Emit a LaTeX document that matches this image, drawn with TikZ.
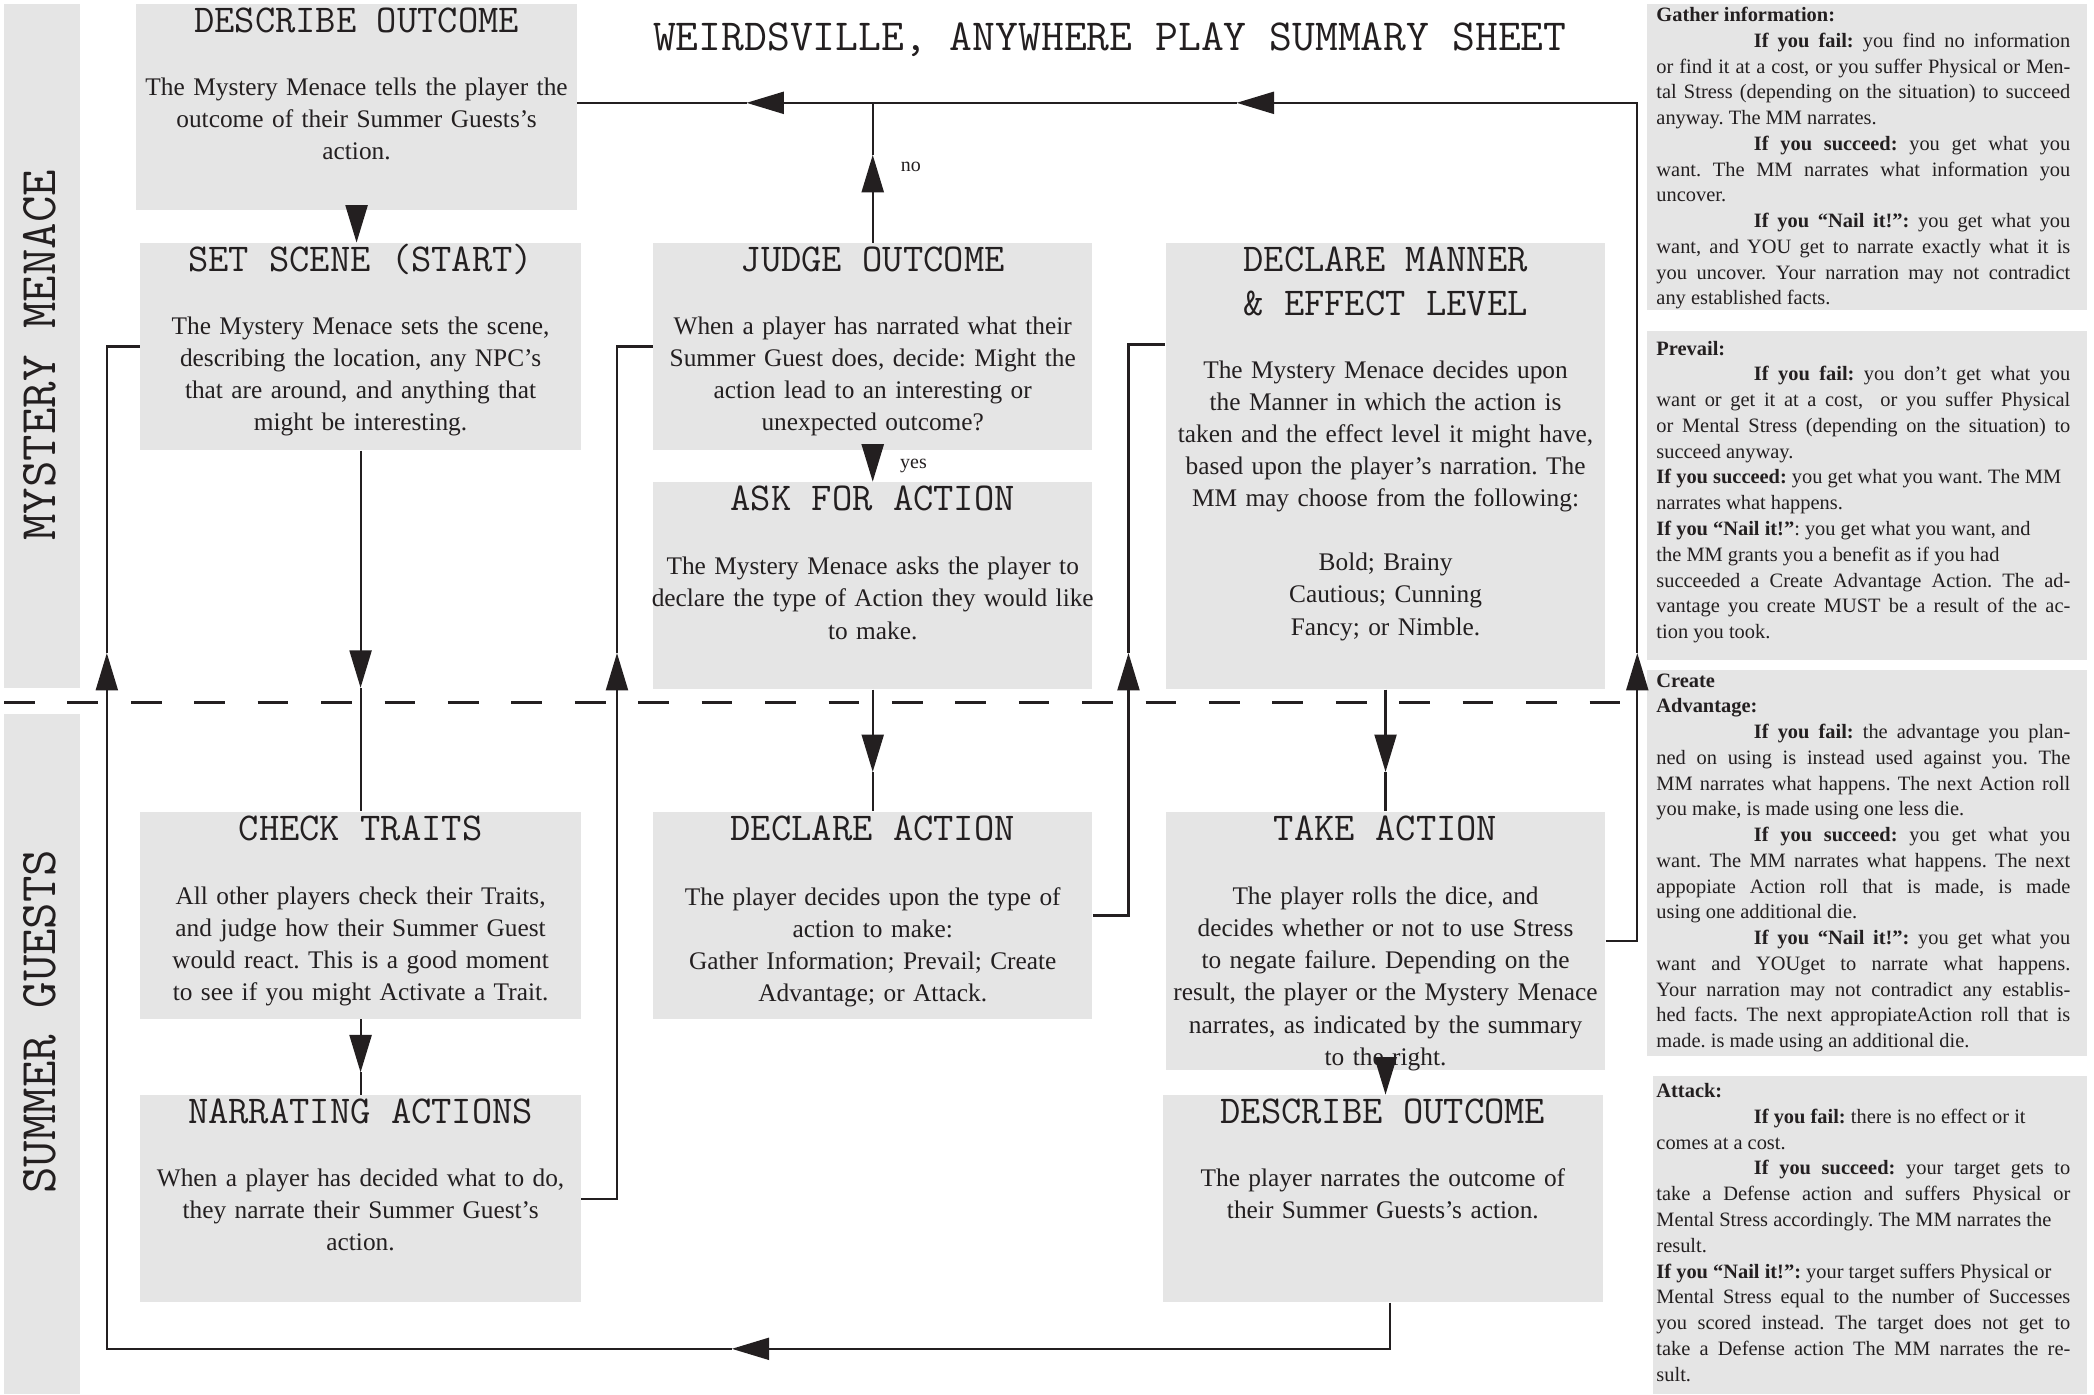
\documentclass[tikz,border=0pt]{standalone}
\usepackage{fontspec}
\setmainfont{Liberation Serif}
\usetikzlibrary{arrows.meta,fit}
\setlength{\parindent}{0pt}
\frenchspacing
\definecolor{ink}{HTML}{231F20}
\definecolor{boxgray}{HTML}{E5E5E5}
\tikzset{
 box/.style={fill=boxgray, draw=none, inner sep=0pt},
 head/.style={font=\ttfamily\fontsize{16.8}{18.8}\selectfont, text=ink, anchor=base, inner sep=0pt},
 body/.style={font=\frenchspacing\fontsize{10.8}{13.66}\selectfont, text=ink, anchor=north, inner sep=0pt, align=center, text width=7cm},
 side/.style={font=\frenchspacing\fontsize{8.7}{10.98}\selectfont, text=ink, anchor=north west, inner sep=0pt, align=justify, text width=6.2cm},
 conn/.style={draw=ink, line width=0.032cm},
 arr/.style={conn, -{Triangle[length=0.56cm,width=0.33cm]}},
 lane/.style={font=\ttfamily\fontsize{21.9}{24}\selectfont, text=ink, rotate=90, inner sep=0pt},
 small/.style={font=\fontsize{8.5}{10}\selectfont, text=ink, inner sep=0pt},
}
\newcommand{\ind}{\hspace*{1.46cm}}
\begin{document}
\begin{tikzpicture}[x=0.02cm, y=-0.02cm]
\useasboundingbox (0,0) rectangle (1568,1044);
\fill[white] (0,0) rectangle (1568,1044);

% lanes
\node[box, fit={(3,3) (60,515)}] (mmlane) {};
\node[box, fit={(3,535) (60,1044)}] (sglane) {};
\node[lane] (mmlab) at (30,266) {MYSTERY MENACE};
\node[lane] (sglab) at (30,765) {SUMMER GUESTS};

% title
\node[font=\ttfamily\fontsize{18.9}{20}\selectfont, text=ink, anchor=base, inner sep=0pt] (title) at (831,38) {WEIRDSVILLE, ANYWHERE PLAY SUMMARY SHEET};

% boxes
\node[box, fit={(102,3) (432,157)}] (desc1) {};
\node[box, fit={(105,182) (435,337)}] (set) {};
\node[box, fit={(489,182) (818,337)}] (judge) {};
\node[box, fit={(489,361) (818,516)}] (ask) {};
\node[box, fit={(873,182) (1202,516)}] (manner) {};
\node[box, fit={(105,608) (435,763)}] (check) {};
\node[box, fit={(105,820) (435,975)}] (narr) {};
\node[box, fit={(489,608) (818,763)}] (declare) {};
\node[box, fit={(873,608) (1202,801)}] (take) {};
\node[box, fit={(871,820) (1200,975)}] (desc2) {};

% side boxes
\node[box, fit={(1233,3) (1563,232)}] (gather) {};
\node[box, fit={(1233,248) (1563,494)}] (prevail) {};
\node[box, fit={(1233,502) (1563,791)}] (create) {};
\node[box, fit={(1238,806) (1563,1044)}] (attack) {};

% dashed separator
\coordinate (dashL) at (3,526);
\coordinate (dashR) at (1222,526);
\draw[ink, line width=0.04cm, dash pattern=on 0.46cm off 0.49cm] (dashL) -- (dashR);

% headings
\node[head] (desc1h) at (267,24) {DESCRIBE OUTCOME};
\node[head] (seth) at (270,203) {SET SCENE (START)};
\node[head] (judgeh) at (653.5,203) {JUDGE OUTCOME};
\node[head] (askh) at (653.5,382) {ASK FOR ACTION};
\node[head] (mannerh1) at (1037.5,203) {DECLARE MANNER};
\node[head] (mannerh2) at (1037.5,236) {\& EFFECT LEVEL};
\node[head] (checkh) at (270,629) {CHECK TRAITS};
\node[head] (narrh) at (270,841) {NARRATING ACTIONS};
\node[head] (declareh) at (653.5,629) {DECLARE ACTION};
\node[head] (takeh) at (1037.5,629) {TAKE ACTION};
\node[head] (desc2h) at (1035.5,841) {DESCRIBE OUTCOME};

% body texts
\node[body] (desc1t) at (267,58) {The Mystery Menace tells the player the\\ outcome of their Summer Guests’s\\ action.};
\node[body] (sett) at (270,237) {The Mystery Menace sets the scene,\\ describing the location, any NPC’s\\ that are around, and anything that\\ might be interesting.};
\node[body] (judget) at (653.5,237) {When a player has narrated what their\\ Summer Guest does, decide: Might the\\ action lead to an interesting or\\ unexpected outcome?};
\node[body] (askt) at (653.5,417) {The Mystery Menace asks the player to\\ declare the type of Action they would like\\ to make.};
\node[body] (mannert) at (1037.5,270) {The Mystery Menace decides upon\\ the Manner in which the action is\\ taken and the effect level it might have,\\ based upon the player’s narration. The\\ MM may choose from the following:\\[13.66pt] Bold; Brainy\\ Cautious; Cunning\\ Fancy; or Nimble.};
\node[body] (checkt) at (270,664) {All other players check their Traits,\\ and judge how their Summer Guest\\ would react. This is a good moment\\ to see if you might Activate a Trait.};
\node[body] (narrt) at (270,875) {When a player has decided what to do,\\ they narrate their Summer Guest’s\\ action.};
\node[body] (declaret) at (653.5,664) {The player decides upon the type of\\ action to make:\\ Gather Information; Prevail; Create\\ Advantage; or Attack.};
\node[body] (taket) at (1037.5,664) {The player rolls the dice, and\\ decides whether or not to use Stress\\ to negate failure. Depending on the\\ result, the player or the Mystery Menace\\ narrates, as indicated by the summary\\ to the right.};
\node[body] (desc2t) at (1035.5,875) {The player narrates the outcome of\\ their Summer Guests’s action.};

% side texts
\node[side] (gathert) at (1240,5) {\textbf{Gather information:}\\
\ind\textbf{If you fail:} you find no information\linebreak
or find it at a cost, or you suffer Physical or Men-\linebreak
tal Stress (depending on the situation) to succeed\linebreak
anyway. The MM narrates.\\
\ind\textbf{If you succeed:} you get what you\linebreak
want. The MM narrates what information you\linebreak
uncover.\\
\ind\textbf{If you “Nail it!”:} you get what you\linebreak
want, and YOU get to narrate exactly what it is\linebreak
you uncover. Your narration may not contradict\linebreak
any established facts.};

\node[side] (prevailt) at (1240,255) {\textbf{Prevail:}\\
\ind\textbf{If you fail:} you don’t get what you\linebreak
want or get it at a cost,~ or you suffer Physical\linebreak
or Mental Stress (depending on the situation) to\linebreak
succeed anyway.\\
\textbf{If you succeed:} you get what you want. The MM\\
narrates what happens.\\
\textbf{If you “Nail it!”}: you get what you want, and\\
the MM grants you a benefit as if you had\\
succeeded a Create Advantage Action. The ad-\linebreak
vantage you create MUST be a result of the ac-\linebreak
tion you took.};

\node[side] (createt) at (1240,504) {\textbf{Create}\\
\textbf{Advantage:}\\
\ind\textbf{If you fail:} the advantage you plan-\linebreak
ned on using is instead used against you. The\linebreak
MM narrates what happens. The next Action roll\linebreak
you make, is made using one less die.\\
\ind\textbf{If you succeed:} you get what you\linebreak
want. The MM narrates what happens. The next\linebreak
appopiate Action roll that is made, is made\linebreak
using one additional die.\\
\ind\textbf{If you “Nail it!”:} you get what you\linebreak
want and YOUget to narrate what happens.\linebreak
Your narration may not contradict any establis-\linebreak
hed facts. The next appropiateAction roll that is\linebreak
made. is made using an additional die.};

\node[side] (attackt) at (1240,811) {\textbf{Attack:}\\
\ind\textbf{If you fail:} there is no effect or it\\
comes at a cost.\\
\ind\textbf{If you succeed:} your target gets to\linebreak
take a Defense action and suffers Physical or\linebreak
Mental Stress accordingly. The MM narrates the\\
result.\\
\textbf{If you “Nail it!”:} your target suffers Physical or\\
Mental Stress equal to the number of Successes\linebreak
you scored instead. The target does not get to\linebreak
take a Defense action The MM narrates the re-\linebreak
sult.};

% connector points
\coordinate (A1) at (1226,489);
\coordinate (A2) at (926,77);
\coordinate (A3) at (559,77);
\coordinate (N1) at (653.5,116);
\coordinate (S1) at (270,515);
\coordinate (S2) at (270,803);
\coordinate (L1) at (462,489);
\coordinate (D1) at (653.5,578);
\coordinate (M1) at (845,489);
\coordinate (M2) at (845,258);
\coordinate (K1) at (1037.5,578);
\coordinate (B1) at (548,1010);
\coordinate (B2) at (80,489);

% connectors
\draw[arr] (take.east) -| (A1);
\draw[arr] (A1) |- (A2);
\draw[arr] (A2) -- (A3);
\draw[conn] (A3) -- (desc1.east |- A3);
\draw[arr] (judge.north) -- (N1);
\draw[conn] (N1) -- (N1 |- A3);
\node[small] (nolab) at (682,125) {no};
\draw[arr] (desc1.south) -- (desc1.south |- set.north);
\draw[arr] (judge.south) -- (ask.north);
\node[small] (yeslab) at (684,349) {yes};
\draw[arr] (set.south) -- (S1);
\draw[conn] (S1) -- (check.north);
\draw[arr] (check.south) -- (S2);
\draw[conn] (S2) -- (narr.north);
\draw[arr] (narr.east) -| (L1);
\draw[conn] (L1) |- (judge.west);
\draw[arr] (ask.south) -- (D1);
\draw[conn] (D1) -- (declare.north);
\draw[arr] (declare.east) -| (M1);
\draw[conn] (M1) |- (manner.west |- M2);
\draw[arr] (manner.south) -- (K1);
\draw[conn] (K1) -- (take.north);
\draw[arr] (take.south) -- (take.south |- desc2.north);
\draw[arr] ([xshift=0.11cm]desc2.south) |- (B1);
\draw[arr] (B1) -| (B2);
\draw[conn] (B2) |- (set.west);
\end{tikzpicture}
\end{document}
